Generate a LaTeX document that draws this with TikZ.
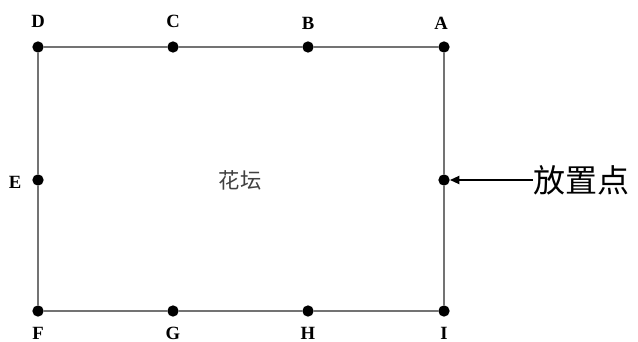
\documentclass[tikz,border=0pt]{standalone}
\usepackage{fontspec}
\setmainfont{Liberation Serif}
\newfontfamily\cjk{Noto Sans CJK SC}
\usetikzlibrary{arrows.meta}
\begin{document}
\begin{tikzpicture}[x=0.75pt, y=-0.75pt,
  point/.style={circle, fill=black, inner sep=0pt, minimum size=8.5pt},
  lettre/.style={font=\bfseries\fontsize{14}{14}\selectfont},
  bord/.style={draw=black!55, line width=1.3pt}]

\useasboundingbox (0,0) rectangle (638,342);

% Points du contour
\node[point] (D) at (38,47) {};
\node[point] (C) at (173,47) {};
\node[point] (B) at (308,47) {};
\node[point] (A) at (444,47) {};
\node[point] (E) at (38,180) {};
\node[point] (P) at (444,180) {};
\node[point] (F) at (38,311) {};
\node[point] (G) at (173,311) {};
\node[point] (H) at (308,311) {};
\node[point] (I) at (444,311) {};

% Contour du massif
\draw[bord] (D) -- (C) -- (B) -- (A) -- (P) -- (I) -- (H) -- (G) -- (F) -- (E) -- (D);

% Lettres
\node[lettre] (lD) at (38,21) {D};
\node[lettre] (lC) at (173,21) {C};
\node[lettre] (lB) at (308,23) {B};
\node[lettre] (lA) at (441,23) {A};
\node[lettre] (lE) at (15,182) {E};
\node[lettre] (lF) at (38,333) {F};
\node[lettre] (lG) at (173,333) {G};
\node[lettre] (lH) at (308,333) {H};
\node[lettre] (lI) at (444,333) {I};

% Textes
\node[font=\cjk\fontsize{16}{16}\selectfont, text=black!75] (massif) at (240,180) {花坛};
\node[font=\cjk\fontsize{24}{24}\selectfont, anchor=west, inner sep=0pt] (pose) at (533,180) {放置点};
\draw[line width=1.4pt, -{Triangle[length=7pt,width=6pt]}] (pose.west) -- (P);

\end{tikzpicture}
\end{document}
